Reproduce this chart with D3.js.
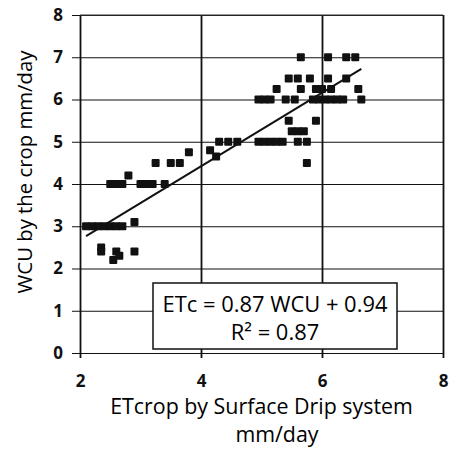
<!DOCTYPE html>
<html>
<head>
<meta charset="utf-8">
<script src="https://cdn.jsdelivr.net/npm/d3@7"></script>
<style>
  body { margin: 0; background: #fff; }
  text { font-family: "Open Sans", "Noto Sans", sans-serif; fill: #000; }
</style>
</head>
<body>
<div id="chart"></div>
<script>
// ETcrop (x) and WCU (y), point by point
const etcrop = [
  2.1, 2.2, 2.3, 2.4, 2.5, 2.6, 2.7, 2.9,
  2.35, 2.35, 2.6, 2.55, 2.65, 2.9,
  2.5, 2.6, 2.7, 2.8, 3.0, 3.1, 3.2, 3.4,
  3.25, 3.5, 3.65, 3.8, 4.15, 4.25,
  4.3, 4.45, 4.6, 4.95, 5.05, 5.15, 5.25, 5.35, 5.6, 5.75,
  5.5, 5.6, 5.7, 5.45, 5.9, 5.75,
  4.95, 5.05, 5.15, 5.4, 5.55, 5.85, 5.95, 6.05, 6.15, 6.25, 6.35, 6.65,
  5.25, 5.65, 5.9, 6.0, 6.15, 6.6,
  5.45, 5.6, 5.8, 6.1, 6.4,
  5.65, 6.1, 6.4, 6.55
];
const wcu = [
  3, 3, 3, 3, 3, 3, 3, 3.1,
  2.5, 2.4, 2.4, 2.2, 2.3, 2.4,
  4, 4, 4, 4.2, 4, 4, 4, 4,
  4.5, 4.5, 4.5, 4.75, 4.8, 4.65,
  5, 5, 5, 5, 5, 5, 5, 5, 5, 5,
  5.25, 5.25, 5.25, 5.5, 5.5, 4.5,
  6, 6, 6, 6, 6, 6, 6, 6, 6, 6, 6, 6,
  6.25, 6.25, 6.25, 6.25, 6.25, 6.25,
  6.5, 6.5, 6.5, 6.5, 6.5,
  7, 7, 7, 7
];
const xTicks = [2, 4, 6, 8];
const yTicks = [0, 1, 2, 3, 4, 5, 6, 7, 8];
const slope = 0.87, intercept = 0.94;
const eqLines = ["ETc = 0.87 WCU + 0.94", "R² = 0.87"];

const width = 461, height = 450;
const margin = { top: 15, right: 18, bottom: 97, left: 80 };

const svg = d3.select("#chart").append("svg")
  .attr("width", width)
  .attr("height", height);

const x = d3.scaleLinear().domain([2, 8]).range([margin.left, width - margin.right]);
const y = d3.scaleLinear().domain([0, 8]).range([height - margin.bottom, margin.top]);

// fit a text to a given width by tweaking its font size
function fit(sel, target) {
  const w = sel.node().getComputedTextLength();
  const fs = parseFloat(sel.attr("font-size"));
  sel.attr("font-size", fs * target / w);
}

const tickStyle = g => g.selectAll(".tick text")
  .attr("font-size", 17)
  .style("font-weight", "bold")
  .style("fill", "#111");

// horizontal gridlines + y ticks
svg.append("g")
  .attr("transform", `translate(${margin.left},0)`)
  .call(d3.axisLeft(y).tickValues(yTicks).tickFormat(d3.format("d"))
    .tickSize(-(x.range()[1] - x.range()[0])).tickSizeOuter(0).tickPadding(17))
  .call(g => g.select(".domain").remove())
  .call(g => g.selectAll(".tick line").attr("stroke", "#111").attr("stroke-width", 1.2).attr("x1", -8))
  .call(tickStyle);

// vertical gridlines + x ticks
svg.append("g")
  .attr("transform", `translate(0,${y(0)})`)
  .call(d3.axisBottom(x).tickValues(xTicks).tickFormat(d3.format("d"))
    .tickSize(-(y.range()[0] - y.range()[1])).tickSizeOuter(0).tickPadding(22))
  .call(g => g.select(".domain").remove())
  .call(g => g.selectAll(".tick line").attr("stroke", "#111").attr("stroke-width", 1.8).attr("y1", 5))
  .call(tickStyle);

// points
svg.append("g")
  .selectAll("rect")
  .data(d3.zip(etcrop, wcu))
  .join("rect")
  .attr("x", d => x(d[0]) - 4)
  .attr("y", d => y(d[1]) - 4)
  .attr("width", 8)
  .attr("height", 8)
  .attr("rx", 1)
  .attr("fill", "#111");

// trend line
const [x0, x1] = d3.extent(etcrop);
svg.append("line")
  .attr("x1", x(x0)).attr("y1", y(slope * x0 + intercept))
  .attr("x2", x(x1)).attr("y2", y(slope * x1 + intercept))
  .attr("stroke", "#111")
  .attr("stroke-width", 2);

// equation box
const bx0 = 153, bx1 = 397, by0 = 283, by1 = 349;
svg.append("rect")
  .attr("x", bx0).attr("y", by0)
  .attr("width", bx1 - bx0).attr("height", by1 - by0)
  .attr("fill", "#fff")
  .attr("stroke", "#111")
  .attr("stroke-width", 1.5);

const eq1 = svg.append("text")
  .attr("x", (bx0 + bx1) / 2).attr("y", 312)
  .attr("text-anchor", "middle")
  .attr("font-size", 20)
  .text(eqLines[0]);
fit(eq1, 225);
svg.append("text")
  .attr("x", (bx0 + bx1) / 2).attr("y", 340)
  .attr("text-anchor", "middle")
  .attr("font-size", eq1.attr("font-size"))
  .text(eqLines[1]);

// axis titles
const yt = svg.append("text")
  .attr("transform", `translate(32,172) rotate(-90)`)
  .attr("text-anchor", "middle")
  .attr("font-size", 20)
  .text("WCU by the crop mm/day");
fit(yt, 243);

const xt = svg.append("text")
  .attr("x", 261.5).attr("y", 414)
  .attr("text-anchor", "middle")
  .attr("font-size", 20)
  .text("ETcrop by Surface Drip system");
fit(xt, 303);
svg.append("text")
  .attr("x", 277).attr("y", 442)
  .attr("text-anchor", "middle")
  .attr("font-size", xt.attr("font-size"))
  .text("mm/day");

// plot frame top
svg.append("line")
  .attr("x1", x(2)).attr("x2", x(8)).attr("y1", y(8)).attr("y2", y(8))
  .attr("stroke", "#333").attr("stroke-width", 1);
</script>
</body>
</html>
